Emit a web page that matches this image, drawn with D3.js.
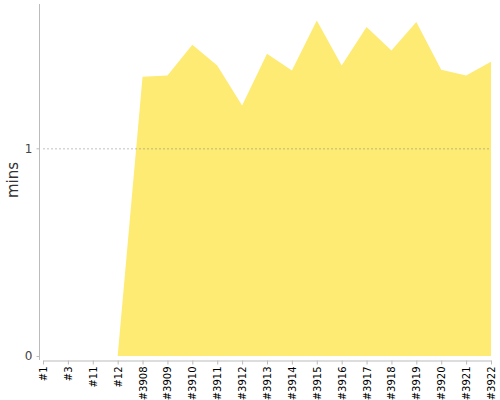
<!DOCTYPE html>
<html><head><meta charset="utf-8">
<script src="https://cdn.jsdelivr.net/npm/d3@7"></script>
<style>body{margin:0;background:#fff}svg{display:block;font-family:"DejaVu Sans",sans-serif}</style>
</head><body><svg width="500" height="400"></svg>
<script>
const categories = ["#1","#3","#11","#12","#3908","#3909","#3910","#3911","#3912","#3913","#3914","#3915","#3916","#3917","#3918","#3919","#3920","#3921","#3922"];
const values = [0,0,0,0,1.345,1.351,1.499,1.399,1.206,1.455,1.375,1.616,1.399,1.584,1.471,1.608,1.378,1.351,1.417];
const yTicks = [0,1];
const yLabel = "mins";

const svg = d3.select("svg");
const x = d3.scalePoint().domain(categories).range([43, 491]);
const y = d3.scaleLinear().domain([0, 1.695]).range([356, 4]);

// area
const data = categories.map((c,i)=>({c,v:values[i]})).filter((d,i)=>i>=3);
svg.append("path").datum(data)
  .attr("fill","#fdeb73")
  .attr("d", d3.area().x(d=>x(d.c)).y0(y(0)).y1(d=>y(d.v)));

// gridline at 1 (over the area, translucent)
svg.append("line").attr("x1",43).attr("x2",491).attr("y1",y(1)+0.5).attr("y2",y(1)+0.5)
  .attr("stroke","#777").attr("stroke-opacity",0.45).attr("stroke-dasharray","2,2").attr("stroke-width",1);

// y axis
const ya = svg.append("g").attr("transform","translate(39.5,0)")
  .call(d3.axisLeft(y).tickValues(yTicks).tickFormat(d3.format("d")).tickSize(3).tickPadding(4));
ya.select(".domain").attr("stroke","#bbb").attr("d","M0,4V360");
ya.selectAll(".tick line").attr("stroke","#bbb");
ya.selectAll("text").attr("fill","#444").attr("font-size",12).attr("font-family","DejaVu Sans");

// x axis
const xa = svg.append("g").attr("transform","translate(0,360.5)")
  .call(d3.axisBottom(x).tickSize(4).tickSizeOuter(0));
xa.select(".domain").attr("stroke","#bbb");
xa.selectAll(".tick line").attr("stroke","#bbb");
xa.selectAll("text").attr("fill","#000").attr("font-size",10).attr("font-family","DejaVu Sans")
  .attr("transform","rotate(-90)").attr("text-anchor","end").attr("dy","0.35em").attr("x",-6).attr("y",0);

svg.append("text").attr("transform","translate(18,180) rotate(-90)").attr("text-anchor","middle")
  .attr("fill","#333").attr("font-size",15).attr("font-family","DejaVu Sans").text(yLabel);
</script></body></html>
